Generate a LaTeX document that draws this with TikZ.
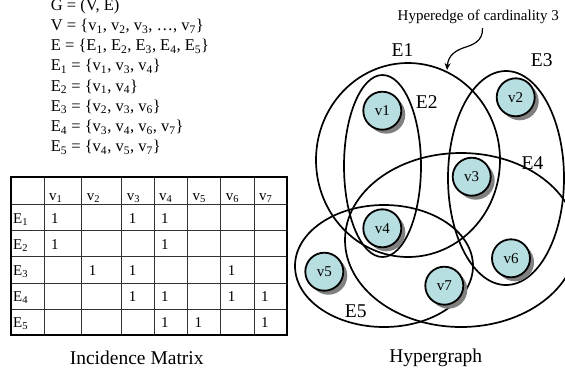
\documentclass[tikz,border=0pt]{standalone}
\usepackage{fontspec}
\setmainfont{Liberation Serif}
\usetikzlibrary{arrows.meta,shadows}
\definecolor{vfill}{RGB}{183,222,224}
\definecolor{vshade}{RGB}{128,128,128}
\newcommand{\sbs}[1]{\textsubscript{#1}}
\tikzset{
    % vertices of the hypergraph
    vnode/.style={circle,draw,line width=1.8pt,fill=vfill,minimum size=38pt,inner sep=0pt,
        font=\fontsize{15}{15}\selectfont,
        drop shadow={shadow xshift=4pt,shadow yshift=-4pt,fill=vshade,opacity=1}},
    hedge/.style={draw,line width=1.7pt},
    elabel/.style={inner sep=0pt,font=\fontsize{19.5}{19.5}\selectfont},
    eqline/.style={anchor=base west,inner sep=0pt,font=\fontsize{16.5}{20}\selectfont},
    cell/.style={anchor=base west,inner sep=0pt,font=\fontsize{15}{15}\selectfont},
    caption/.style={anchor=base,inner sep=0pt,font=\fontsize{19.5}{19.5}\selectfont},
    gridline/.style={draw=black!80,line width=0.8pt}
}

\begin{document}
\begin{tikzpicture}[x=1pt,y=-1pt]
    \useasboundingbox (0,0) rectangle (565,376);
    \clip (0,0) rectangle (565,376);

    % Set definitions
    \node[eqline] (eqG) at (50.7,10.3) {G = (V, E)};
    \node[eqline] (eqV) at (50.7,30.5) {V = \{v\sbs{1}, v\sbs{2}, v\sbs{3}, …, v\sbs{7}\}};
    \node[eqline] (eqE) at (50.7,50.7) {E = \{E\sbs{1}, E\sbs{2}, E\sbs{3}, E\sbs{4}, E\sbs{5}\}};
    \node[eqline] (eqE1) at (50.7,70.9) {E\sbs{1} = \{v\sbs{1}, v\sbs{3}, v\sbs{4}\}};
    \node[eqline] (eqE2) at (50.7,91.1) {E\sbs{2} = \{v\sbs{1}, v\sbs{4}\}};
    \node[eqline] (eqE3) at (50.7,111.3) {E\sbs{3} = \{v\sbs{2}, v\sbs{3}, v\sbs{6}\}};
    \node[eqline] (eqE4) at (50.7,131.5) {E\sbs{4} = \{v\sbs{3}, v\sbs{4}, v\sbs{6}, v\sbs{7}\}};
    \node[eqline] (eqE5) at (50.7,151.7) {E\sbs{5} = \{v\sbs{4}, v\sbs{5}, v\sbs{7}\}};

    % Incidence matrix grid
    \foreach \x in {44,81.7,121.7,154,187.3,220.7,254}
        \draw[gridline] (\x,176.7) -- (\x,335);
    \foreach \y in {204.3,230.7,256.7,283.3,309}
        \draw[gridline] (10.7,\y) -- (286.7,\y);
    \draw[line width=1.6pt] (10.7,176.7) rectangle (286.7,335);

    % Column and row headers
    \foreach \x [count=\i] in {44,81.7,121.7,154,187.3,220.7,254}
        \node[cell] (hv\i) at (\x+5,200) {v\sbs{\i}};
    \foreach \y [count=\i] in {230.7,256.7,283.3,309,335}
        \node[cell] (hE\i) at (13,\y-7.5) {E\sbs{\i}};

    % Entries (column x, row bottom)
    \foreach \x/\y [count=\k] in {44/230.7,121.7/230.7,154/230.7,
                                  44/256.7,154/256.7,
                                  81.7/283.3,121.7/283.3,220.7/283.3,
                                  121.7/309,154/309,220.7/309,254/309,
                                  154/335,187.3/335,254/335}
        \node[cell] (m\k) at (\x+7,\y-7.5) {1};

    \node[caption] (capM) at (136.7,364) {Incidence Matrix};

    % Hyperedges
    \draw[hedge] (408,160) ellipse [x radius=92pt,y radius=97pt];
    \draw[hedge] (382.5,166) ellipse [x radius=38.5pt,y radius=91pt];
    \draw[hedge] (506,178) ellipse [x radius=58pt,y radius=107pt];
    \draw[hedge] (461,240) ellipse [x radius=116pt,y radius=87pt];
    \draw[hedge] (384,266) ellipse [x radius=89pt,y radius=61pt];

    % Vertices
    \node[vnode] (v1) at (382.3,110.7) {v1};
    \node[vnode] (v2) at (515.7,97.3) {v2};
    \node[vnode] (v3) at (471.7,176.7) {v3};
    \node[vnode] (v4) at (382.3,228.3) {v4};
    \node[vnode] (v5) at (324.3,271.7) {v5};
    \node[vnode] (v6) at (511,258.3) {v6};
    \node[vnode] (v7) at (444.3,285.7) {v7};

    % Hyperedge labels
    \node[elabel] (lE1) at (402.5,49.7) {E1};
    \node[elabel] (lE2) at (426.7,101.7) {E2};
    \node[elabel] (lE3) at (541.7,60) {E3};
    \node[elabel] (lE4) at (532.5,163.3) {E4};
    \node[elabel] (lE5) at (355.8,311.7) {E5};

    % Annotation
    \node[anchor=base,inner sep=0pt,font=\fontsize{15}{15}\selectfont] (hlabel) at (478.3,20.7) {Hyperedge of cardinality 3};
    \coordinate (wtip) at (447,70);
    \draw[line width=1.2pt,-{Stealth[length=7pt,width=6pt]}] ([xshift=4.2pt,yshift=-4pt]hlabel.south)
        .. controls (483,42) and (472,45) .. (463,48)
        .. controls (452,52) and (448,58) .. (wtip);

    \node[caption] (capH) at (435.8,362.7) {Hypergraph};
\end{tikzpicture}
\end{document}
